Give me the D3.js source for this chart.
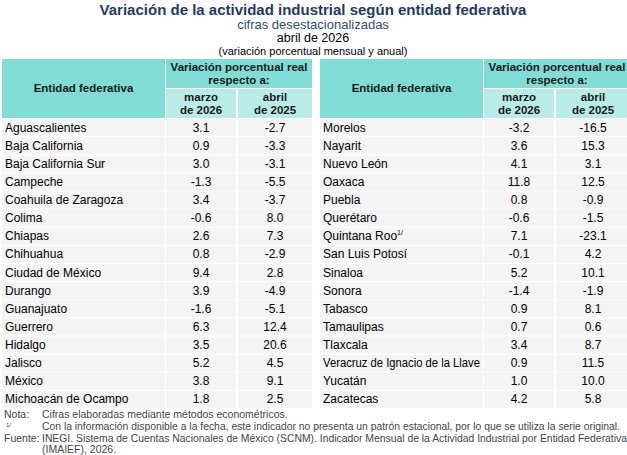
<!DOCTYPE html><html><head><meta charset="utf-8"><script src="https://cdn.jsdelivr.net/npm/d3@7"></script>
<style>body{margin:0;background:#fff}</style></head><body><svg id="c" width="627" height="455"></svg>
<script>
const leftNames=["Aguascalientes","Baja California","Baja California Sur","Campeche","Coahuila de Zaragoza","Colima","Chiapas","Chihuahua","Ciudad de México","Durango","Guanajuato","Guerrero","Hidalgo","Jalisco","México","Michoacán de Ocampo"];
const leftMar=[3.1,0.9,3.0,-1.3,3.4,-0.6,2.6,0.8,9.4,3.9,-1.6,6.3,3.5,5.2,3.8,1.8];
const leftAbr=[-2.7,-3.3,-3.1,-5.5,-3.7,8.0,7.3,-2.9,2.8,-4.9,-5.1,12.4,20.6,4.5,9.1,2.5];
const rightNames=["Morelos","Nayarit","Nuevo León","Oaxaca","Puebla","Querétaro","Quintana Roo","San Luis Potosí","Sinaloa","Sonora","Tabasco","Tamaulipas","Tlaxcala","Veracruz de Ignacio de la Llave","Yucatán","Zacatecas"];
const rightMar=[-3.2,3.6,4.1,11.8,0.8,-0.6,7.1,-0.1,5.2,-1.4,0.9,0.7,3.4,0.9,1.0,4.2];
const rightAbr=[-16.5,15.3,3.1,12.5,-0.9,-1.5,-23.1,4.2,10.1,-1.9,8.1,0.6,8.7,11.5,10.0,5.8];
const svg=d3.select("#c"),F="Arial, Liberation Sans, sans-serif";
const t=(x,y,s,o={})=>{const e=svg.append("text").attr("x",x).attr("y",y).attr("font-family",F).attr("font-size",o.size||12).attr("fill",o.fill||"#000").attr("text-anchor",o.anchor||"middle").attr("font-weight",o.bold?"bold":"normal").text(s);return e;};
t(313,15,"Variación de la actividad industrial según entidad federativa",{size:15,bold:1,fill:"#1f3b63"});
t(313,28.5,"cifras desestacionalizadas",{size:13,fill:"#2c4e7a"});
t(313,42,"abril de 2026",{size:12.5});
t(313,55,"(variación porcentual mensual y anual)",{size:11});
const y=d3.scaleBand().domain(d3.range(16)).range([118,408]).paddingInner(0);
function table(x0,names,mar,abr){
  const cols=[[x0,x0+163],[x0+164,x0+234],[x0+236,x0+310]];
  const hc="#80dcd5",lc="#b9ece7";
  svg.append("rect").attr("x",cols[0][0]).attr("y",59).attr("width",cols[0][1]-cols[0][0]).attr("height",59).attr("fill",hc);
  svg.append("rect").attr("x",cols[1][0]).attr("y",59).attr("width",cols[2][1]-cols[1][0]).attr("height",29).attr("fill",hc);
  svg.append("rect").attr("x",cols[1][0]).attr("y",89).attr("width",cols[1][1]-cols[1][0]).attr("height",29).attr("fill",lc);
  svg.append("rect").attr("x",cols[2][0]).attr("y",89).attr("width",cols[2][1]-cols[2][0]).attr("height",29).attr("fill",lc);
  const hf={size:11.5,bold:1,fill:"#1a1a1a"};
  t((cols[0][0]+cols[0][1])/2,92,"Entidad federativa",hf);
  const cx=(cols[1][0]+cols[2][1])/2;
  t(cx,71,"Variación porcentual real",hf);t(cx,84,"respecto a:",hf);
  const c1=(cols[1][0]+cols[1][1])/2,c2=(cols[2][0]+cols[2][1])/2;
  t(c1,101,"marzo",hf);t(c1,114,"de 2026",hf);t(c2,101,"abril",hf);t(c2,114,"de 2025",hf);
  names.forEach((n,i)=>{
    const yy=y(i),h=y.bandwidth();
    cols.forEach(c=>svg.append("rect").attr("x",c[0]).attr("y",yy+1).attr("width",c[1]-c[0]).attr("height",h-1).attr("fill","#f4f4f4"));
    const tx=t(cols[0][0]+3,yy+h/2+4.5,n,{anchor:"start",size:12});
    if(n.length>25) tx.attr("textLength",157).attr("lengthAdjust","spacingAndGlyphs");
    if(n==="Quintana Roo") tx.append("tspan").attr("font-size",7).attr("dy",-5).text("1/");
    t(c1,yy+h/2+4.5,mar[i].toFixed(1));
    t(c2,yy+h/2+4.5,abr[i].toFixed(1));
  });
}
table(2,leftNames,leftMar,leftAbr);
table(320,rightNames,rightMar,rightAbr);
const g="#444";
t(4,418,"Nota:",{anchor:"start",size:10.5,fill:g});
t(42,418,"Cifras elaboradas mediante métodos econométricos.",{anchor:"start",size:10.5,fill:g});
t(6,427,"1/",{anchor:"start",size:6,fill:g});
t(42,430,"Con la información disponible a la fecha, este indicador no presenta un patrón estacional, por lo que se utiliza la serie original.",{anchor:"start",size:10.5,fill:g}).attr("textLength",578).attr("lengthAdjust","spacingAndGlyphs");
t(4,442,"Fuente:",{anchor:"start",size:10.5,fill:g});
t(42,442,"INEGI. Sistema de Cuentas Nacionales de México (SCNM). Indicador Mensual de la Actividad Industrial por Entidad Federativa",{anchor:"start",size:10.5,fill:g}).attr("textLength",585).attr("lengthAdjust","spacingAndGlyphs");
t(42,453,"(IMAIEF), 2026.",{anchor:"start",size:10.5,fill:g});
</script></body></html>
